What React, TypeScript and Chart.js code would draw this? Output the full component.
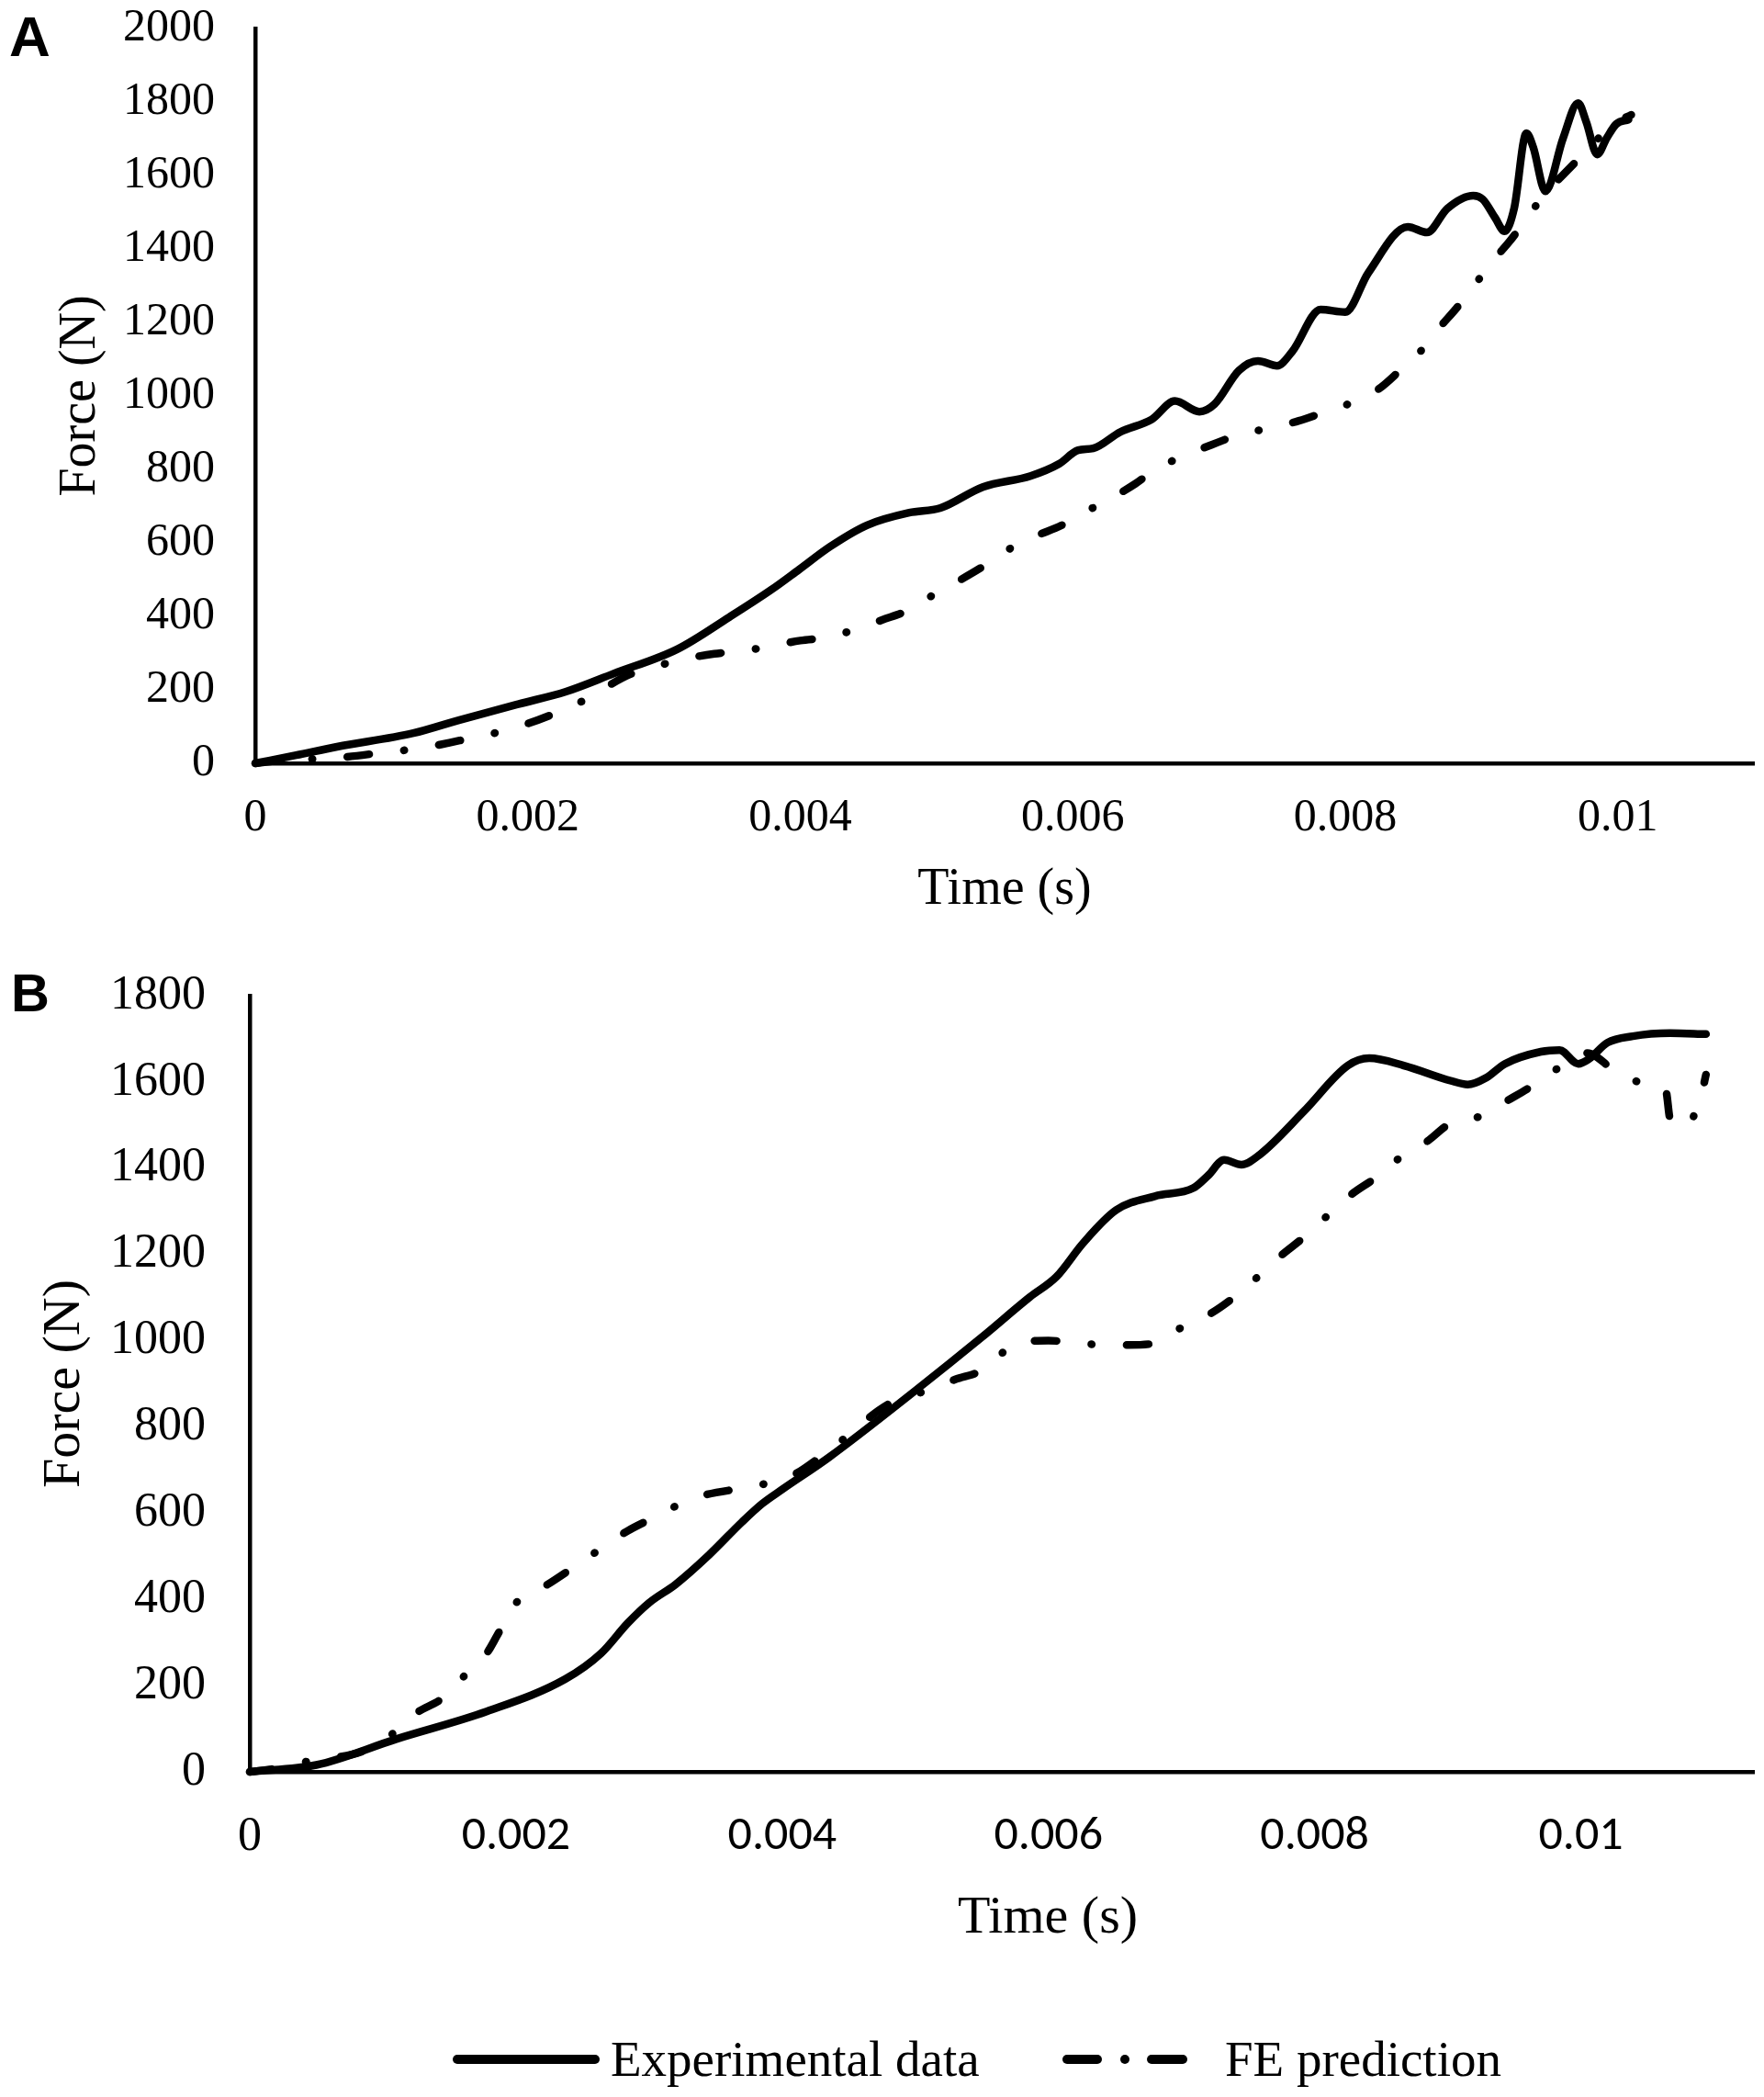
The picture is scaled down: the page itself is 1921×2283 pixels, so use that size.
import React, { useEffect, useRef } from 'react';
import { Chart, registerables } from 'chart.js';

Chart.register(...registerables);

// ---------- Data: panel A ----------
const timeA_exp = [0, 0.0003, 0.0006, 0.00116, 0.0015, 0.00193, 0.00228, 0.00263, 0.0031, 0.00348, 0.00379, 0.00399, 0.00422, 0.00449, 0.0048, 0.00503, 0.00534, 0.00569, 0.0059, 0.00604, 0.00615, 0.00635, 0.00658, 0.00675, 0.00693, 0.00704, 0.00722, 0.00736, 0.0075, 0.00761, 0.00782, 0.008, 0.00817, 0.00846, 0.0086, 0.00875, 0.00894, 0.00901, 0.0091, 0.00917, 0.00924, 0.00933, 0.00938, 0.00947, 0.0096, 0.00971, 0.00977, 0.00985, 0.00992, 0.00999, 0.01008];
const forceA_exp = [0, 22, 45, 82, 118, 161, 195, 244, 311, 398, 473, 527, 590, 648, 682, 695, 752, 782, 815, 852, 857, 902, 936, 986, 957, 977, 1069, 1095, 1082, 1120, 1235, 1228, 1335, 1460, 1445, 1510, 1545, 1535, 1485, 1448, 1510, 1715, 1677, 1557, 1702, 1797, 1745, 1657, 1702, 1740, 1752];

const timeA_fe = [0, 0.0002, 0.0006, 0.001, 0.0012, 0.0015, 0.0018, 0.002, 0.0022, 0.0024, 0.00255, 0.00275, 0.003, 0.00315, 0.00337, 0.0036, 0.00377, 0.004, 0.00422, 0.00439, 0.0046, 0.00482, 0.00497, 0.00517, 0.00536, 0.00551, 0.00572, 0.00592, 0.00608, 0.00628, 0.00646, 0.00662, 0.00682, 0.00702, 0.00722, 0.00744, 0.00766, 0.00782, 0.00805, 0.00825, 0.00839, 0.00855, 0.00869, 0.00882, 0.00895, 0.00909, 0.00921, 0.00934, 0.00947, 0.0096, 0.00976, 0.00997, 0.0101];
const forceA_fe = [0, 8, 15, 32, 40, 62, 86, 108, 136, 169, 202, 242, 270, 284, 298, 307, 318, 334, 344, 363, 390, 421, 457, 498, 540, 578, 617, 648, 682, 721, 761, 803, 837, 867, 894, 912, 932, 952, 982, 1020, 1065, 1120, 1185, 1240, 1302, 1370, 1422, 1487, 1552, 1602, 1662, 1740, 1765];

// ---------- Data: panel B ----------
const timeB_exp = [0, 0.0005, 0.0011, 0.00178, 0.00237, 0.00264, 0.00284, 0.003, 0.0032, 0.00345, 0.0037, 0.00385, 0.004, 0.00435, 0.005, 0.0055, 0.00586, 0.00606, 0.00626, 0.00651, 0.0068, 0.00709, 0.0072, 0.00732, 0.00745, 0.00759, 0.00792, 0.00825, 0.00841, 0.00867, 0.00902, 0.00915, 0.00929, 0.00943, 0.0097, 0.00984, 0.00998, 0.01006, 0.0102, 0.01039, 0.01067, 0.01094];
const forceB_exp = [0, 16, 76, 140, 215, 275, 345, 392, 435, 503, 580, 622, 655, 729, 884, 1008, 1101, 1148, 1226, 1303, 1335, 1354, 1383, 1419, 1408, 1432, 1532, 1638, 1655, 1638, 1603, 1594, 1610, 1642, 1670, 1674, 1642, 1653, 1691, 1706, 1713, 1711];

const timeB_fe = [0, 0.0002, 0.00046, 0.00084, 0.00108, 0.00122, 0.00148, 0.00161, 0.00178, 0.00186, 0.00199, 0.00224, 0.00254, 0.00284, 0.00299, 0.00335, 0.00375, 0.00405, 0.00435, 0.0048, 0.005, 0.0053, 0.0055, 0.00576, 0.006, 0.0063, 0.0066, 0.00678, 0.00696, 0.00722, 0.0074, 0.00758, 0.00775, 0.00792, 0.0081, 0.00828, 0.00845, 0.00864, 0.00884, 0.00902, 0.00925, 0.00945, 0.00963, 0.00983, 0.01005, 0.01023, 0.01043, 0.01058, 0.01064, 0.01067, 0.01078, 0.0109, 0.01094];
const forceB_fe = [0, 8, 26, 47, 90, 130, 178, 222, 275, 317, 388, 435, 497, 559, 583, 636, 661, 683, 745, 853, 875, 910, 931, 993, 1000, 992, 990, 993, 1024, 1063, 1102, 1150, 1198, 1240, 1291, 1340, 1376, 1424, 1461, 1504, 1521, 1557, 1590, 1632, 1667, 1632, 1600, 1590, 1578, 1515, 1496, 1564, 1617];

// ---------- Ticks & labels ----------
const xTickValues = [0, 0.002, 0.004, 0.006, 0.008, 0.01];
const xTickLabels = ['0', '0.002', '0.004', '0.006', '0.008', '0.01'];
const yTicksA = [0, 200, 400, 600, 800, 1000, 1200, 1400, 1600, 1800, 2000];
const yTicksB = [0, 200, 400, 600, 800, 1000, 1200, 1400, 1600, 1800];
const seriesNames = ['Experimental data', 'FE prediction'];
const xTitle = 'Time (s)';
const yTitle = 'Force (N)';

const SERIF = "'Liberation Serif', 'Times New Roman', Times, serif";
const SANS = "Carlito, Calibri, Lato, 'Liberation Sans', sans-serif";
const FE_DASH = [24, 38, 0.5, 38];

function pts(xs: number[], ys: number[]) {
  return xs.map((x, i) => ({ x, y: ys[i] }));
}

function makeConfig(p: any): any {
  return {
    type: 'line',
    data: {
      datasets: [
        {
          label: seriesNames[0],
          data: pts(p.expT, p.expF),
          borderColor: '#000',
          borderWidth: 8.5,
          pointRadius: 0,
          fill: false,
          cubicInterpolationMode: 'monotone',
          borderCapStyle: 'round',
          borderJoinStyle: 'round',
          clip: false,
        },
        {
          label: seriesNames[1],
          data: pts(p.feT, p.feF),
          borderColor: '#000',
          borderWidth: 8.5,
          pointRadius: 0,
          fill: false,
          cubicInterpolationMode: 'monotone',
          borderDash: FE_DASH,
          borderCapStyle: 'round',
          borderJoinStyle: 'round',
          clip: false,
        },
      ],
    },
    options: {
      animation: false,
      responsive: false,
      maintainAspectRatio: false,
      events: [],
      layout: { padding: { top: p.padTop, right: 11, left: 0, bottom: 0 } },
      plugins: { legend: { display: false }, tooltip: { enabled: false } },
      scales: {
        x: {
          type: 'linear',
          min: 0,
          max: p.xMax,
          grid: { display: false, drawTicks: false },
          border: { display: true, color: '#000', width: 4.5 },
          afterBuildTicks: (s: any) => {
            s.ticks = xTickValues.map((v) => ({ value: v }));
          },
          afterFit: (s: any) => {
            s.height = p.xAxisH;
            s.paddingLeft = 0;
            s.paddingRight = 0;
          },
          ticks: {
            color: '#000',
            padding: p.xTickPad,
            maxRotation: 0,
            autoSkip: false,
            font: p.xTickFont,
            callback: (_v: any, i: number) => xTickLabels[i],
          },
          title: p.xTitleOpts,
        },
        y: {
          type: 'linear',
          min: 0,
          max: p.yMax,
          grid: { display: false, drawTicks: false },
          border: { display: true, color: '#000', width: 4.5 },
          afterBuildTicks: (s: any) => {
            s.ticks = p.yTicks.map((v: number) => ({ value: v }));
          },
          afterFit: (s: any) => {
            s.width = p.yAxisW;
            s.paddingTop = 0;
            s.paddingBottom = 0;
          },
          ticks: {
            color: '#000',
            padding: p.yTickPad,
            autoSkip: false,
            font: { family: SERIF, size: p.yTickSize, lineHeight: 1.2 },
            callback: (v: any) => String(v),
          },
          title: {
            display: true,
            text: yTitle,
            color: '#000',
            font: { family: SERIF, size: p.yTitleSize, lineHeight: 1.2 },
            padding: { top: p.yTitlePad, bottom: 0 },
          },
        },
      },
    },
  };
}

const specA = {
  expT: timeA_exp, expF: forceA_exp, feT: timeA_fe, feF: forceA_fe,
  xMax: 0.011, yMax: 2000, yTicks: yTicksA,
  padTop: 31, xAxisH: 1050 - 831, yAxisW: 278,
  xTickPad: 30, yTickPad: 44, yTickSize: 50, yTitleSize: 56, yTitlePad: 55,
  xTickFont: { family: SERIF, size: 50, lineHeight: 1.2 },
  xTitleOpts: {
    display: true, text: xTitle, color: '#000',
    font: { family: SERIF, size: 56, lineHeight: 1.2 },
    padding: { top: 0, bottom: 47 },
  },
};

const specB = {
  expT: timeB_exp, expF: forceB_exp, feT: timeB_fe, feF: forceB_fe,
  xMax: 0.0113, yMax: 1800, yTicks: yTicksB,
  padTop: 34, xAxisH: 1130 - 879, yAxisW: 272,
  xTickPad: 40, yTickPad: 48, yTickSize: 52, yTitleSize: 58, yTitlePad: 36,
  xTickFont: (ctx: any) =>
    ctx && ctx.tick && ctx.tick.value === 0
      ? { family: SERIF, size: 52, lineHeight: 1.2 }
      : { family: SANS, size: 52, lineHeight: 1.2 },
  xTitleOpts: { display: false, text: xTitle },
};

function Panel({ spec, top, height }: { spec: any; top: number; height: number }) {
  const ref = useRef<HTMLCanvasElement | null>(null);
  useEffect(() => {
    if (!ref.current) return;
    const chart = new Chart(ref.current, makeConfig(spec));
    return () => chart.destroy();
  }, [spec]);
  return (
    <canvas
      ref={ref}
      width={1921}
      height={height}
      style={{ position: 'absolute', left: 0, top, width: 1921, height, display: 'block' }}
    />
  );
}

const textBase: React.CSSProperties = {
  position: 'absolute',
  lineHeight: 1,
  whiteSpace: 'nowrap',
  color: '#000',
  margin: 0,
};

export default function App() {
  return (
    <div
      style={{
        position: 'absolute',
        left: 0,
        top: 0,
        width: 1921,
        height: 2283,
        background: '#fff',
        overflow: 'hidden',
      }}
    >
      <Panel spec={specA} top={0} height={1050} />
      <Panel spec={specB} top={1050} height={1130} />

      <div style={{ ...textBase, left: 10, top: 9, fontFamily: "'Liberation Sans', Arial, sans-serif", fontWeight: 'bold', fontSize: 62 }}>A</div>
      <div style={{ ...textBase, left: 12, top: 1052, fontFamily: "'Liberation Sans', Arial, sans-serif", fontWeight: 'bold', fontSize: 58 }}>B</div>

      <div style={{ ...textBase, left: 1141, top: 2056, transform: 'translateX(-50%)', fontFamily: SERIF, fontSize: 58 }}>{xTitle}</div>

      <svg
        width={1921}
        height={80}
        style={{ position: 'absolute', left: 0, top: 2200 }}
      >
        <line x1={498} y1={42} x2={648} y2={42} stroke="#000" strokeWidth={10} strokeLinecap="round" />
        <line x1={1162} y1={42} x2={1195} y2={42} stroke="#000" strokeWidth={10} strokeLinecap="round" />
        <circle cx={1225} cy={42} r={5} fill="#000" />
        <line x1={1254} y1={42} x2={1288} y2={42} stroke="#000" strokeWidth={10} strokeLinecap="round" />
      </svg>
      <div style={{ ...textBase, left: 665, top: 2214, fontFamily: SERIF, fontSize: 55 }}>{seriesNames[0]}</div>
      <div style={{ ...textBase, left: 1334, top: 2214, fontFamily: SERIF, fontSize: 55 }}>{seriesNames[1]}</div>
    </div>
  );
}
